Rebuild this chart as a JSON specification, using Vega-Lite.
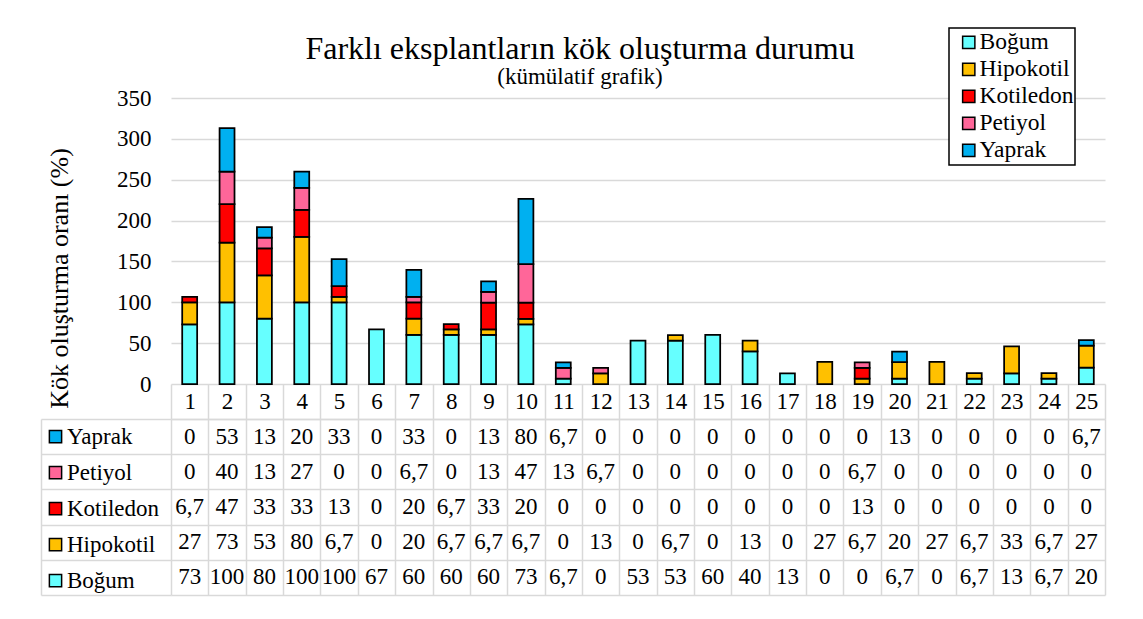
{
  "$schema": "https://vega.github.io/schema/vega-lite/v6.json",
  "autosize": {"type": "none"},
  "padding": {"left": 171, "top": 98, "right": 972, "bottom": 521},
  "background": "white",
  "bounds": "flush",
  "spacing": 35,
  "config": {
    "font": "Liberation Serif",
    "view": {"stroke": null},
    "axis": {"labelFont": "Liberation Serif", "titleFont": "Liberation Serif"},
    "legend": {"strokeWidth": 1.5, "labelFont": "Liberation Serif", "titleFont": "Liberation Serif"},
    "text": {"font": "Liberation Serif"},
    "title": {"font": "Liberation Serif", "subtitleFont": "Liberation Serif"},
    "locale": {"number": {"decimal": ",", "thousands": ".", "grouping": [3], "currency": ["", ""]}}
  },
  "resolve": {
    "scale": {"x": "independent", "y": "independent", "color": "independent"},
    "legend": {"color": "independent"}
  },
  "datasets": {
    "d": [
      {"cat": 1, "series": "Boğum", "value": 73}, {"cat": 1, "series": "Hipokotil", "value": 27}, {"cat": 1, "series": "Kotiledon", "value": 6.7}, {"cat": 1, "series": "Petiyol", "value": 0}, {"cat": 1, "series": "Yaprak", "value": 0},
      {"cat": 2, "series": "Boğum", "value": 100}, {"cat": 2, "series": "Hipokotil", "value": 73}, {"cat": 2, "series": "Kotiledon", "value": 47}, {"cat": 2, "series": "Petiyol", "value": 40}, {"cat": 2, "series": "Yaprak", "value": 53},
      {"cat": 3, "series": "Boğum", "value": 80}, {"cat": 3, "series": "Hipokotil", "value": 53}, {"cat": 3, "series": "Kotiledon", "value": 33}, {"cat": 3, "series": "Petiyol", "value": 13}, {"cat": 3, "series": "Yaprak", "value": 13},
      {"cat": 4, "series": "Boğum", "value": 100}, {"cat": 4, "series": "Hipokotil", "value": 80}, {"cat": 4, "series": "Kotiledon", "value": 33}, {"cat": 4, "series": "Petiyol", "value": 27}, {"cat": 4, "series": "Yaprak", "value": 20},
      {"cat": 5, "series": "Boğum", "value": 100}, {"cat": 5, "series": "Hipokotil", "value": 6.7}, {"cat": 5, "series": "Kotiledon", "value": 13}, {"cat": 5, "series": "Petiyol", "value": 0}, {"cat": 5, "series": "Yaprak", "value": 33},
      {"cat": 6, "series": "Boğum", "value": 67}, {"cat": 6, "series": "Hipokotil", "value": 0}, {"cat": 6, "series": "Kotiledon", "value": 0}, {"cat": 6, "series": "Petiyol", "value": 0}, {"cat": 6, "series": "Yaprak", "value": 0},
      {"cat": 7, "series": "Boğum", "value": 60}, {"cat": 7, "series": "Hipokotil", "value": 20}, {"cat": 7, "series": "Kotiledon", "value": 20}, {"cat": 7, "series": "Petiyol", "value": 6.7}, {"cat": 7, "series": "Yaprak", "value": 33},
      {"cat": 8, "series": "Boğum", "value": 60}, {"cat": 8, "series": "Hipokotil", "value": 6.7}, {"cat": 8, "series": "Kotiledon", "value": 6.7}, {"cat": 8, "series": "Petiyol", "value": 0}, {"cat": 8, "series": "Yaprak", "value": 0},
      {"cat": 9, "series": "Boğum", "value": 60}, {"cat": 9, "series": "Hipokotil", "value": 6.7}, {"cat": 9, "series": "Kotiledon", "value": 33}, {"cat": 9, "series": "Petiyol", "value": 13}, {"cat": 9, "series": "Yaprak", "value": 13},
      {"cat": 10, "series": "Boğum", "value": 73}, {"cat": 10, "series": "Hipokotil", "value": 6.7}, {"cat": 10, "series": "Kotiledon", "value": 20}, {"cat": 10, "series": "Petiyol", "value": 47}, {"cat": 10, "series": "Yaprak", "value": 80},
      {"cat": 11, "series": "Boğum", "value": 6.7}, {"cat": 11, "series": "Hipokotil", "value": 0}, {"cat": 11, "series": "Kotiledon", "value": 0}, {"cat": 11, "series": "Petiyol", "value": 13}, {"cat": 11, "series": "Yaprak", "value": 6.7},
      {"cat": 12, "series": "Boğum", "value": 0}, {"cat": 12, "series": "Hipokotil", "value": 13}, {"cat": 12, "series": "Kotiledon", "value": 0}, {"cat": 12, "series": "Petiyol", "value": 6.7}, {"cat": 12, "series": "Yaprak", "value": 0},
      {"cat": 13, "series": "Boğum", "value": 53}, {"cat": 13, "series": "Hipokotil", "value": 0}, {"cat": 13, "series": "Kotiledon", "value": 0}, {"cat": 13, "series": "Petiyol", "value": 0}, {"cat": 13, "series": "Yaprak", "value": 0},
      {"cat": 14, "series": "Boğum", "value": 53}, {"cat": 14, "series": "Hipokotil", "value": 6.7}, {"cat": 14, "series": "Kotiledon", "value": 0}, {"cat": 14, "series": "Petiyol", "value": 0}, {"cat": 14, "series": "Yaprak", "value": 0},
      {"cat": 15, "series": "Boğum", "value": 60}, {"cat": 15, "series": "Hipokotil", "value": 0}, {"cat": 15, "series": "Kotiledon", "value": 0}, {"cat": 15, "series": "Petiyol", "value": 0}, {"cat": 15, "series": "Yaprak", "value": 0},
      {"cat": 16, "series": "Boğum", "value": 40}, {"cat": 16, "series": "Hipokotil", "value": 13}, {"cat": 16, "series": "Kotiledon", "value": 0}, {"cat": 16, "series": "Petiyol", "value": 0}, {"cat": 16, "series": "Yaprak", "value": 0},
      {"cat": 17, "series": "Boğum", "value": 13}, {"cat": 17, "series": "Hipokotil", "value": 0}, {"cat": 17, "series": "Kotiledon", "value": 0}, {"cat": 17, "series": "Petiyol", "value": 0}, {"cat": 17, "series": "Yaprak", "value": 0},
      {"cat": 18, "series": "Boğum", "value": 0}, {"cat": 18, "series": "Hipokotil", "value": 27}, {"cat": 18, "series": "Kotiledon", "value": 0}, {"cat": 18, "series": "Petiyol", "value": 0}, {"cat": 18, "series": "Yaprak", "value": 0},
      {"cat": 19, "series": "Boğum", "value": 0}, {"cat": 19, "series": "Hipokotil", "value": 6.7}, {"cat": 19, "series": "Kotiledon", "value": 13}, {"cat": 19, "series": "Petiyol", "value": 6.7}, {"cat": 19, "series": "Yaprak", "value": 0},
      {"cat": 20, "series": "Boğum", "value": 6.7}, {"cat": 20, "series": "Hipokotil", "value": 20}, {"cat": 20, "series": "Kotiledon", "value": 0}, {"cat": 20, "series": "Petiyol", "value": 0}, {"cat": 20, "series": "Yaprak", "value": 13},
      {"cat": 21, "series": "Boğum", "value": 0}, {"cat": 21, "series": "Hipokotil", "value": 27}, {"cat": 21, "series": "Kotiledon", "value": 0}, {"cat": 21, "series": "Petiyol", "value": 0}, {"cat": 21, "series": "Yaprak", "value": 0},
      {"cat": 22, "series": "Boğum", "value": 6.7}, {"cat": 22, "series": "Hipokotil", "value": 6.7}, {"cat": 22, "series": "Kotiledon", "value": 0}, {"cat": 22, "series": "Petiyol", "value": 0}, {"cat": 22, "series": "Yaprak", "value": 0},
      {"cat": 23, "series": "Boğum", "value": 13}, {"cat": 23, "series": "Hipokotil", "value": 33}, {"cat": 23, "series": "Kotiledon", "value": 0}, {"cat": 23, "series": "Petiyol", "value": 0}, {"cat": 23, "series": "Yaprak", "value": 0},
      {"cat": 24, "series": "Boğum", "value": 6.7}, {"cat": 24, "series": "Hipokotil", "value": 6.7}, {"cat": 24, "series": "Kotiledon", "value": 0}, {"cat": 24, "series": "Petiyol", "value": 0}, {"cat": 24, "series": "Yaprak", "value": 0},
      {"cat": 25, "series": "Boğum", "value": 20}, {"cat": 25, "series": "Hipokotil", "value": 27}, {"cat": 25, "series": "Kotiledon", "value": 0}, {"cat": 25, "series": "Petiyol", "value": 0}, {"cat": 25, "series": "Yaprak", "value": 6.7}
    ]
  },
  "vconcat": [
    {
      "width": 934,
      "height": 286,
      "title": {
        "text": "Farklı eksplantların kök oluşturma durumu",
        "subtitle": "(kümülatif grafik)",
        "fontSize": 32,
        "subtitleFontSize": 23,
        "font": "Liberation Serif",
        "subtitleFont": "Liberation Serif",
        "fontWeight": "normal",
        "color": "black",
        "subtitleColor": "black",
        "anchor": "middle",
        "frame": "group",
        "dx": -58,
        "offset": -63,
        "subtitlePadding": 0
      },
      "data": {"name": "d"},
      "transform": [{"filter": "datum.value > 0"}],
      "mark": {"type": "bar", "stroke": "black", "strokeWidth": 1.75},
      "encoding": {
        "x": {
          "field": "cat",
          "type": "ordinal",
          "scale": {"paddingInner": 0.6, "paddingOuter": 0.3},
          "axis": null
        },
        "y": {
          "field": "value",
          "type": "quantitative",
          "stack": "zero",
          "scale": {"domain": [0, 350], "nice": false},
          "axis": {
            "values": [0, 50, 100, 150, 200, 250, 300, 350],
            "labelFont": "Liberation Serif",
            "labelFontSize": 23,
            "labelColor": "black",
            "labelPadding": 20,
            "ticks": false,
            "domain": false,
            "grid": true,
            "gridColor": "#d9d9d9",
            "gridWidth": 1.5,
            "title": "Kök oluşturma oranı (%)",
            "titleFont": "Liberation Serif",
            "titleFontSize": 26,
            "titleFontWeight": "normal",
            "titleColor": "black",
            "titleAngle": -90,
            "titleX": -104,
            "titleY": 180,
            "titleAlign": "center",
            "titleBaseline": "alphabetic"
          }
        },
        "order": {"field": "series", "type": "nominal", "sort": "ascending"},
        "color": {
          "field": "series",
          "type": "nominal",
          "scale": {
            "domain": ["Boğum", "Hipokotil", "Kotiledon", "Petiyol", "Yaprak"],
            "range": ["#66FFFF", "#FFC000", "#FF0000", "#FF6699", "#00B0F0"]
          },
          "legend": {
            "orient": "none",
            "legendX": 778,
            "legendY": -70,
            "title": null,
            "direction": "vertical",
            "labelFont": "Liberation Serif",
            "labelFontSize": 23.5,
            "labelColor": "black",
            "labelExpr": "datum.label + '\u00a0\u00a0'",
            "symbolType": "square",
            "symbolSize": 150,
            "symbolStrokeColor": "black",
            "symbolStrokeWidth": 1.5,
            "symbolOffset": 7,
            "labelOffset": -1,
            "clipHeight": 26.75,
            "rowPadding": 0,
            "padding": 1,
            "strokeColor": "black",
            "fillColor": "white"
          }
        }
      }
    },
    {
      "width": 934,
      "height": 176,
      "data": {"name": "d"},
      "layer": [
        {
          "mark": {"type": "text", "font": "Liberation Serif", "fontSize": 23, "color": "black", "baseline": "middle"},
          "encoding": {
            "x": {
              "field": "cat",
              "type": "ordinal",
              "scale": {"paddingInner": 0, "paddingOuter": 0},
              "axis": {
                "orient": "top",
                "title": null,
                "tickBand": "extent",
                "tickSize": 35,
                "tickColor": "#d9d9d9",
                "tickWidth": 1.5,
                "domainColor": "#d9d9d9",
                "domainWidth": 1.5,
                "grid": true,
                "gridColor": "#d9d9d9",
                "gridWidth": 1.5,
                "labelAngle": 0,
                "labelFont": "Liberation Serif",
                "labelFontSize": 23,
                "labelColor": "black",
                "labelBaseline": "middle",
                "labelPadding": -17.5
              }
            },
            "y": {
              "field": "series",
              "type": "nominal",
              "sort": ["Yaprak", "Petiyol", "Kotiledon", "Hipokotil", "Boğum"],
              "scale": {"paddingInner": 0, "paddingOuter": 0},
              "axis": {
                "title": null,
                "labels": false,
                "tickBand": "extent",
                "offset": 130,
                "tickSize": -130,
                "tickColor": "#d9d9d9",
                "tickWidth": 1.5,
                "domainColor": "#d9d9d9",
                "domainWidth": 1.5,
                "grid": true,
                "gridColor": "#d9d9d9",
                "gridWidth": 1.5
              }
            },
            "text": {"field": "value", "type": "quantitative", "format": ".3~r"}
          }
        },
        {
          "transform": [{"filter": "false"}],
          "mark": {"type": "square", "stroke": "black", "strokeWidth": 1.5, "opacity": 1},
          "encoding": {
            "color": {
              "field": "series",
              "type": "nominal",
              "scale": {
                "domain": ["Yaprak", "Petiyol", "Kotiledon", "Hipokotil", "Boğum"],
                "range": ["#00B0F0", "#FF6699", "#FF0000", "#FFC000", "#66FFFF"]
              },
              "legend": {
                "orient": "none",
                "legendX": -127,
                "legendY": 0,
                "title": null,
                "direction": "vertical",
                "labelFont": "Liberation Serif",
                "labelFontSize": 23,
                "labelColor": "black",
                "symbolType": "square",
                "symbolSize": 150,
                "symbolStrokeColor": "black",
                "symbolStrokeWidth": 1.5,
                "symbolOffset": 0,
                "labelOffset": 0,
                "clipHeight": 35.2,
                "rowPadding": 0,
                "padding": 0
              }
            }
          }
        }
      ]
    }
  ]
}
